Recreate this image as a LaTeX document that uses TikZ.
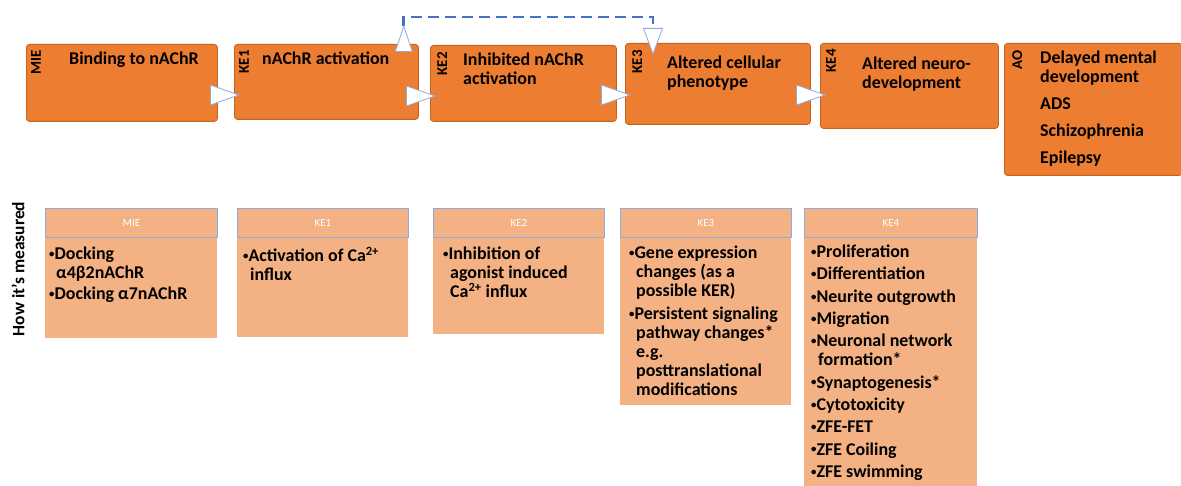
\documentclass[tikz,border=0pt]{standalone}
\usepackage{fontspec}
\setmainfont{Carlito}
\usepackage{graphicx}
\usepackage{tikz}
\usetikzlibrary{arrows.meta,positioning}

\definecolor{keorange}{HTML}{ED7D31}
\definecolor{keedge}{HTML}{C5641F}
\definecolor{kepeach}{HTML}{F4B183}
\definecolor{keblue}{HTML}{4472C4}
\definecolor{kegrey}{HTML}{8FAADC}
\newcommand{\cont}{\hspace*{7bp}}
\newcommand{\dotb}{\raisebox{2.2bp}{\scalebox{.6}{•}}}

\begin{document}
\begin{tikzpicture}[
  x=1bp, y=-1bp,
  event/.style={draw=keedge,fill=keorange,line width=.8bp,rounded corners=3bp,anchor=north west,inner sep=0pt},
  evtext/.style={font=\fontsize{18}{19}\selectfont\bfseries,align=left,inner sep=0pt},
  tag/.style={font=\fontsize{15}{15}\selectfont\bfseries,rotate=90,anchor=north east,inner sep=0pt},
  mhead/.style={draw=kegrey,fill=kepeach,line width=.8bp,anchor=north west,inner sep=0pt,minimum height=29bp,font=\fontsize{11}{11}\selectfont,text=white},
  mbody/.style={fill=kepeach,anchor=north west,inner sep=0pt},
  mtext/.style={font=\fontsize{18}{19}\selectfont\bfseries,align=left,inner sep=0pt},
  flow/.style={-{Triangle[length=30bp,width=21bp,fill=white]},draw=kegrey,line width=.8bp,shorten >=-6bp},
  feedback/.style={{Triangle[reversed,length=27bp,width=18bp,color=kegrey,fill=white,line width=.8bp]}-{Triangle[length=27bp,width=20bp,color=kegrey,fill=white,line width=.8bp]},draw=keblue,line width=2.8bp,dash pattern=on 11bp off 6bp}]

  \useasboundingbox (0,0) rectangle (1181,486);

  % Key events along the top
  \node[event,minimum width=191bp,minimum height=77bp] (MIE) at (26,44) {};
  \node[event,minimum width=184bp,minimum height=75bp] (KE1) at (234,44) {};
  \node[event,minimum width=186bp,minimum height=76bp] (KE2) at (430,45) {};
  \node[event,minimum width=185bp,minimum height=81bp] (KE3) at (625,43) {};
  \node[event,minimum width=178bp,minimum height=85bp] (KE4) at (820,43) {};
  \node[event,minimum width=178bp,minimum height=132bp] (AO) at (1004,43) {};

  \node[tag] (MIEtag) at ([shift={(5,6)}]MIE.north west) {MIE};
  \node[tag] (KE1tag) at ([shift={(5,6)}]KE1.north west) {KE1};
  \node[tag] (KE2tag) at ([shift={(7,7)}]KE2.north west) {KE2};
  \node[tag] (KE3tag) at ([shift={(7,7)}]KE3.north west) {KE3};
  \node[tag] (KE4tag) at ([shift={(6,6)}]KE4.north west) {KE4};
  \node[tag] (AOtag) at ([shift={(8,7)}]AO.north west) {AO};

  \node[evtext,below right=8bp and 43bp of MIE.north west] (MIEtext) {Binding to nAChR};
  \node[evtext,below right=8bp and 28bp of KE1.north west] (KE1text) {nAChR activation};
  \node[evtext,below right=8bp and 33bp of KE2.north west] (KE2text) {Inhibited nAChR\\activation};
  \node[evtext,below right=13bp and 42bp of KE3.north west] (KE3text) {Altered cellular\\phenotype};
  \node[evtext,below right=14bp and 42bp of KE4.north west] (KE4text) {Altered neuro-\\development};
  \node[evtext,below right=8bp and 36bp of AO.north west] (AOtext) {Delayed mental\\development\\[8bp]ADS\\[8bp]Schizophrenia\\[8bp]Epilepsy};

  % Arrows between the events
  \draw[flow] (MIE.east |- 0,95) -- (KE1.west |- 0,95);
  \draw[flow] (KE1.east |- 0,96) -- (KE2.west |- 0,96);
  \draw[flow] (KE2.east |- 0,95) -- (KE3.west |- 0,95);
  \draw[flow] (KE3.east |- 0,95) -- (KE4.west |- 0,95);
  \draw[feedback] ([shift={(-15,8)}]KE1.north east) -- ++(0,-35) -| ([shift={(28,12)}]KE3.north west);

  % How each event is measured
  \node[font=\fontsize{17.5}{17.5}\selectfont\bfseries,rotate=90,inner sep=0pt] (howlabel) at (18,269) {How it's measured};

  \node[mhead,minimum width=172bp] (MIEh) at (45,208) {MIE};
  \node[mbody,minimum width=172bp,minimum height=100bp] (MIEb) at (MIEh.south west) {};
  \node[mhead,minimum width=171bp] (KE1h) at (237,208) {KE1};
  \node[mbody,minimum width=171bp,minimum height=99bp] (KE1b) at (KE1h.south west) {};
  \node[mhead,minimum width=171bp] (KE2h) at (433,208) {KE2};
  \node[mbody,minimum width=171bp,minimum height=96bp] (KE2b) at (KE2h.south west) {};
  \node[mhead,minimum width=171bp] (KE3h) at (620,208) {KE3};
  \node[mbody,minimum width=171bp,minimum height=167bp] (KE3b) at (KE3h.south west) {};
  \node[mhead,minimum width=173bp] (KE4h) at (804,208) {KE4};
  \node[mbody,minimum width=173bp,minimum height=252bp] (KE4b) at (KE4h.south west) {};

  \node[mtext,below right=9bp and 4bp of MIEb.north west] (MIElist) {\dotb Docking\\\cont α4β2nAChR\\[2bp]\dotb Docking α7nAChR};
  \node[mtext,below right=9bp and 6bp of KE1b.north west] (KE1list) {\dotb Activation of Ca\textsuperscript{2+}\\\cont influx};
  \node[mtext,below right=9bp and 10bp of KE2b.north west] (KE2list) {\dotb Inhibition of\\\cont agonist induced\\\cont Ca\textsuperscript{2+} influx};
  \node[mtext,below right=8bp and 9bp of KE3b.north west] (KE3list) {\dotb Gene expression\\\cont changes (as a\\\cont possible KER)\\[4bp]\dotb Persistent signaling\\\cont pathway changes*\\\cont e.g.\\\cont posttranslational\\\cont modifications};
  \node[mtext,below right=7bp and 7bp of KE4b.north west] (KE4list) {\dotb Proliferation\\[3.4bp]\dotb Differentiation\\[3.4bp]\dotb Neurite outgrowth\\[3.4bp]\dotb Migration\\[3.4bp]\dotb Neuronal network\\\cont formation*\\[3.4bp]\dotb Synaptogenesis*\\[3.4bp]\dotb Cytotoxicity\\[3.4bp]\dotb ZFE-FET\\[3.4bp]\dotb ZFE Coiling\\[3.4bp]\dotb ZFE swimming};
\end{tikzpicture}
\end{document}
